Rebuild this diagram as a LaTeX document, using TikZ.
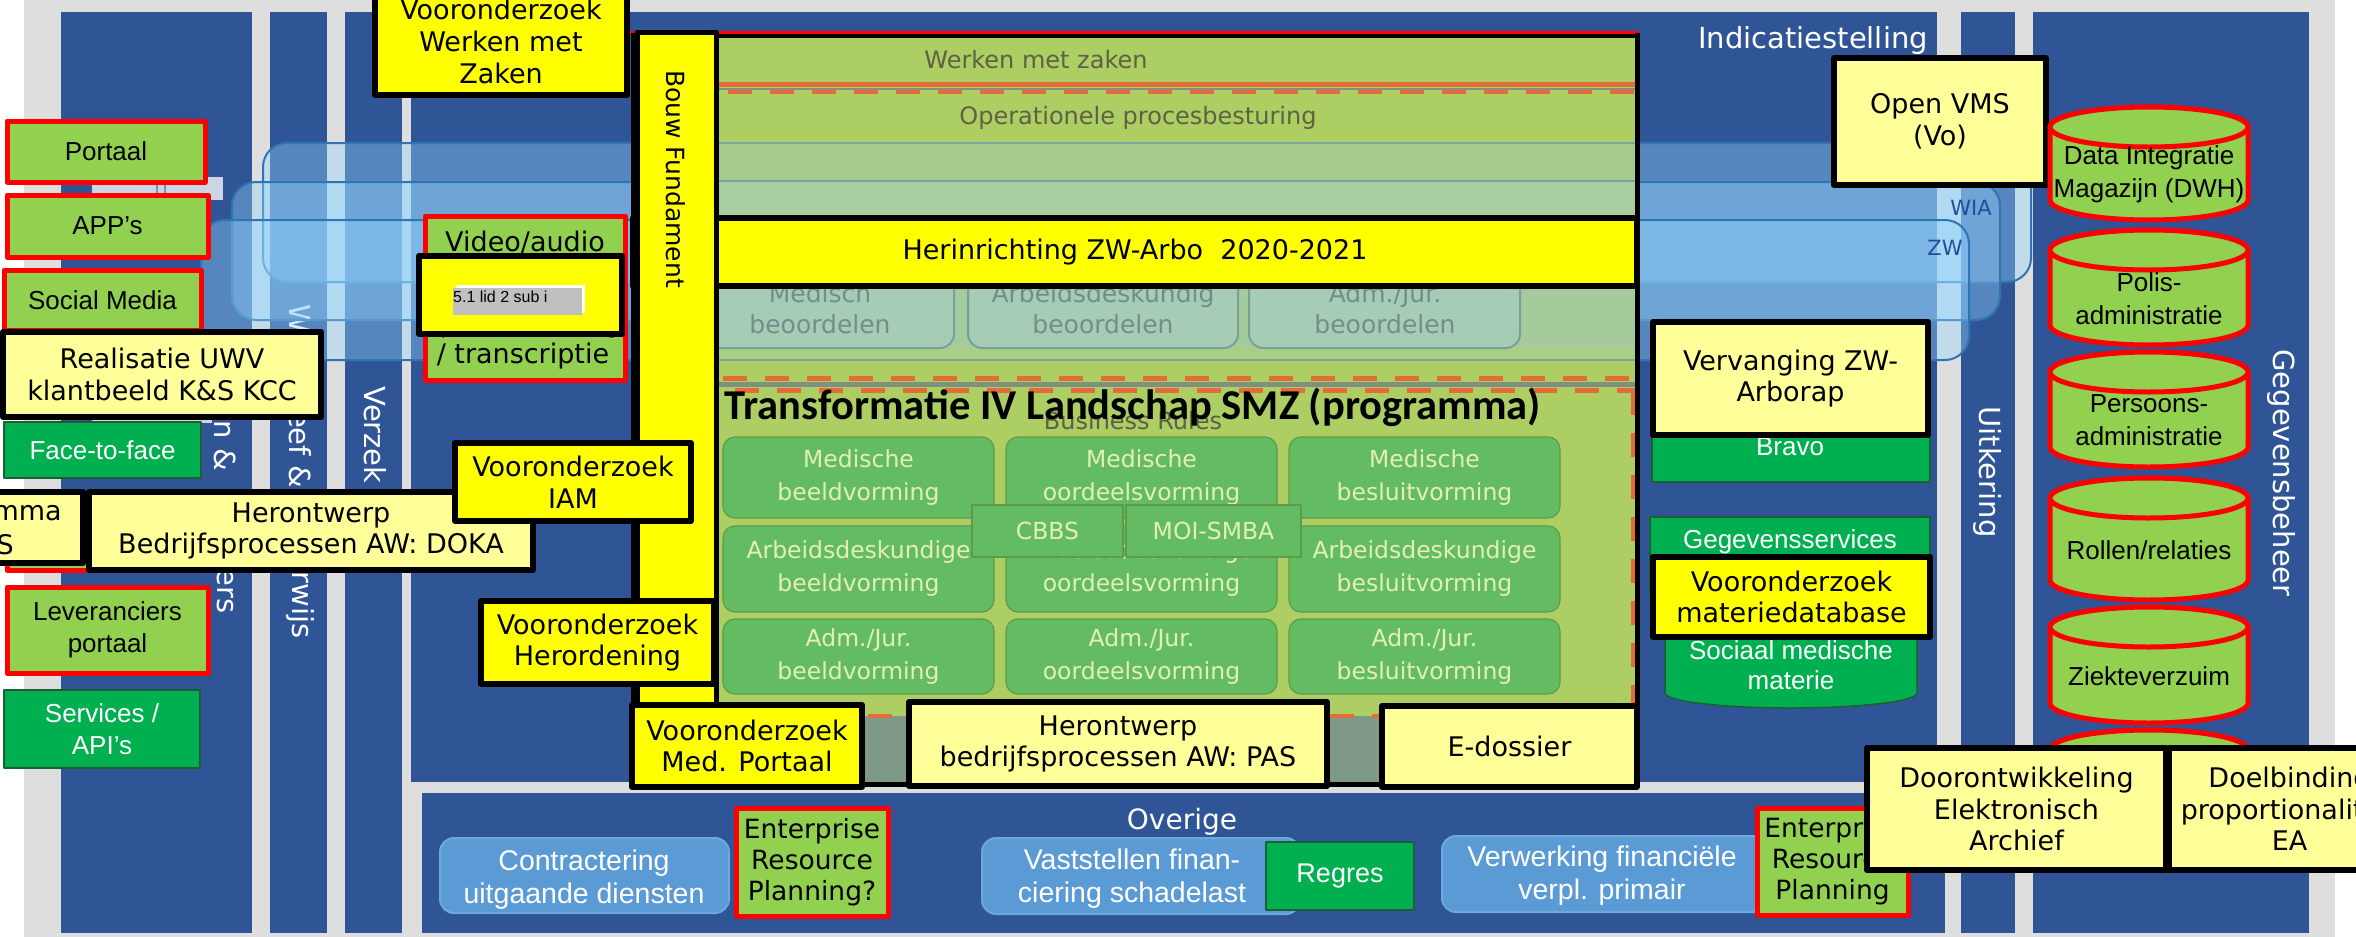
\documentclass[tikz,border=0pt]{standalone}
\usepackage{fontspec}
\setmainfont{DejaVu Sans}
\newfontfamily\arialf{Liberation Sans}
\newfontfamily\calib{Carlito}

\definecolor{achter}{HTML}{DEDEDE}
\definecolor{donkerblauw}{HTML}{2F5597}
\definecolor{lichtgroen}{HTML}{92D050}
\definecolor{groen}{HTML}{00B050}
\definecolor{donkergroen}{HTML}{1E5E34}
\definecolor{geel}{HTML}{FFFF00}
\definecolor{lichtgeel}{HTML}{FFFF99}
\definecolor{rood}{HTML}{FF0000}
\definecolor{olijf}{HTML}{ADCE62}
\definecolor{band1}{HTML}{A6CB8C}
\definecolor{band2}{HTML}{A7CDA1}
\definecolor{band3}{HTML}{A5CB9C}
\definecolor{band4}{HTML}{A9CE84}
\definecolor{bandlijn}{HTML}{7FA4A0}
\definecolor{scheidgrijs}{HTML}{7F8F80}
\definecolor{bodemgrijs}{HTML}{7E9985}
\definecolor{oranje}{HTML}{E46C3A}
\definecolor{regelgroen}{HTML}{63BC62}
\definecolor{regelrand}{HTML}{5E9A4C}
\definecolor{regeltekst}{HTML}{E4EFB8}
\definecolor{grijstekst}{HTML}{5E6145}
\definecolor{beoordeel}{HTML}{A7CCB5}
\definecolor{beoordeelrand}{HTML}{73A29E}
\definecolor{beoordeeltekst}{HTML}{6F9088}
\definecolor{overblauw}{HTML}{96D7FF}
\definecolor{randblauw}{HTML}{2E75B6}
\definecolor{wetblauw}{HTML}{1F4E9A}
\definecolor{procesblauw}{HTML}{5B9BD5}
\definecolor{procesrand}{HTML}{6FA8DC}
\definecolor{stub}{HTML}{CCD5E6}
\definecolor{stublijn}{HTML}{7F8FB0}
\definecolor{grijsvak}{HTML}{C0C0C0}

% vak met hoeken (x1,y1) en (x2,y2)
\newcommand{\blok}[7]{%
  \node[#1, minimum width={(#5)-(#3)}, minimum height={(#6)-(#4)}] (#2) at ({(#3+#5)/2},{(#4+#6)/2}) {#7};}
% database: stijl, naam, midden x, boven, onder, tekst
\newcommand{\dbcil}[6]{%
  \path[#1] (#3-99,#4+20) -- (#3-99,#5-20) arc[start angle=180, end angle=360, x radius=99pt, y radius=20pt]
    -- (#3+99,#4+20) arc[start angle=0, end angle=180, x radius=99pt, y radius=20pt] -- cycle;
  \path[#1] (#3,#4+20) ellipse[x radius=99pt, y radius=20pt];
  \node[dbtekst] (#2) at (#3,{(#4+#5)/2+11}) {#6};}

\begin{document}
\begin{tikzpicture}[
    x=1pt, y=-1pt,
    line join=round,
    kolom/.style={fill=donkerblauw},
    kolomtekst/.style={text=white, rotate=-90, inner sep=0pt, font=\fontsize{29}{33}\selectfont},
    witlabel/.style={text=white, inner sep=0pt, font=\fontsize{29}{33}\selectfont},
    wetlabel/.style={text=wetblauw, inner sep=0pt, font=\fontsize{21}{24}\selectfont},
    laag/.style={fill=overblauw, fill opacity=0.38, draw=randblauw, line width=2pt, rounded corners=24pt},
    geelvak/.style={fill=geel, draw=black, line width=6pt, align=center, inner sep=0pt, font=\fontsize{27}{31.5}\selectfont},
    lgeelvak/.style={geelvak, fill=lichtgeel},
    groenrood/.style={fill=lichtgroen, draw=rood, line width=5pt, align=center, inner sep=0pt, font=\arialf\fontsize{26}{32}\selectfont},
    erpvak/.style={groenrood, font=\fontsize{26.5}{31}\selectfont},
    groenvak/.style={fill=groen, draw=donkergroen, line width=1.5pt, text=white, align=center, inner sep=0pt, font=\arialf\fontsize{26}{32}\selectfont},
    regel/.style={fill=regelgroen, draw=regelrand, line width=1.2pt, rounded corners=12pt, text=regeltekst, align=center, inner sep=0pt, font=\fontsize{23.5}{33}\selectfont},
    beoordeelvak/.style={fill=beoordeel, draw=beoordeelrand, line width=2pt, rounded corners=14pt},
    beoordeeltxt/.style={text=beoordeeltekst, align=center, inner sep=0pt, font=\fontsize{25}{31}\selectfont},
    proces/.style={fill=procesblauw, draw=procesrand, line width=2pt, rounded corners=14pt},
    procestekst/.style={text=white, align=center, inner sep=0pt, font=\arialf\fontsize{28.5}{33}\selectfont},
    bandtekst/.style={text=grijstekst, inner sep=0pt, font=\fontsize{24}{28}\selectfont},
    streep/.style={draw=oranje, line width=4.5pt, dash pattern=on 24pt off 18pt},
    dbvat/.style={fill=lichtgroen, draw=rood, line width=5pt},
    dbtekst/.style={align=center, inner sep=0pt, font=\arialf\fontsize{26}{33}\selectfont}
  ]
  \useasboundingbox (0,0) rectangle (2356,937);

  % achtergrond
  \fill[white] (0,0) rectangle (2356,937);
  \fill[achter] (24,0) rectangle (2335,937);

  % kolommen
  \fill[kolom] (61,12) rectangle (252,933);
  \fill[kolom] (270,12) rectangle (327,933);
  \fill[kolom] (345,12) rectangle (402,933);
  \fill[kolom] (411,12) rectangle (1937,782);
  \fill[kolom] (422,793) rectangle (1945,933);
  \fill[kolom] (1961,12) rectangle (2015,933);
  \fill[kolom] (2033,12) rectangle (2309,933);

  % kolomteksten
  \node[kolomtekst] (kanaal1) at (225,446) {n \&};
  \node[kolomtekst] (kanaal2) at (225,591) {ers};
  \node[kolomtekst] (werk1) at (300,319) {W};
  \node[kolomtekst] (werk2) at (300,449) {eef \&};
  \node[kolomtekst] (werk3) at (300,605) {rwijs};
  \node[kolomtekst] (verzek) at (375,435) {Verzek};
  \node[kolomtekst] (uitkering) at (1987,472) {Uitkering};
  \node[kolomtekst] (gegevens) at (2281,473) {Gegevensbeheer};
  \node[witlabel] (indicatie) at (1813,40) {Indicatiestelling};
  \node[witlabel, font=\fontsize{28}{32}\selectfont] (overige) at (1182,822) {Overige};

  % wetten dwars door de kolommen
  \draw[laag] (263,143) rectangle (2031,282);
  \draw[laag] (232,182) rectangle (2000,320);
  \node[wetlabel] (wia) at (1971,208) {WIA};
  \draw[laag] (201,220) rectangle (1969,360);
  \node[wetlabel] (zw) at (1945,248) {ZW};

  \fill[stub] (92,177) rectangle (223,200);
  \draw[stublijn, line width=1.5pt] (157,177) -- (157,200) (165,177) -- (165,200);
  \fill[stub] (92,416) rectangle (212,423);

  % centraal blok
  \fill[olijf] (633,34) rectangle (1637,716);
  \fill[band1] (633,143) rectangle (1637,181);
  \fill[band2] (633,181) rectangle (1637,218);
  \fill[band3] (633,218) rectangle (1637,348);
  \fill[band4] (633,348) rectangle (1637,360);
  \fill[bodemgrijs] (633,716) rectangle (1637,785);
  \draw[bandlijn, line width=2pt] (633,143) -- (1637,143) (633,181) -- (1637,181) (633,360) -- (1637,360);
  \draw[oranje, line width=5pt] (700,84.5) -- (1637,84.5);
  \draw[scheidgrijs, line width=2pt] (700,88.5) -- (1637,88.5);
  \draw[streep] (728,92) -- (1637,92);
  \draw[streep] (723,378.5) -- (1637,378.5);
  \draw[scheidgrijs, line width=5pt] (700,384.5) -- (1637,384.5);
  \draw[streep] (735,390.5) -- (1637,390.5);
  \draw[streep] (1633,391) -- (1633,716);
  \draw[streep] (700,716) -- (1633,716);
  \draw[rood, line width=3pt] (629,32) -- (1639,32);
  \draw[black, line width=4pt] (700,35.5) -- (1639,35.5);
  \draw[black, line width=5pt] (1637,33) -- (1637,786) (633,33) -- (633,786) (633,784) -- (1637,784);

  \node[bandtekst] (werkenzaken) at (1036,60) {Werken met zaken};
  \node[bandtekst] (procesbest) at (1138,118) {Operationele procesbesturing};

  % beoordelen
  \draw[beoordeelvak] (686,262) rectangle (954,348);
  \draw[beoordeelvak] (968,262) rectangle (1238,348);
  \draw[beoordeelvak] (1249,262) rectangle (1520,348);
  \node[beoordeeltxt] (medbeo) at (820,309) {Medisch\\beoordelen};
  \node[beoordeeltxt] (adbeo) at (1103,309) {Arbeidsdeskundig\\beoordelen};
  \node[beoordeeltxt] (admbeo) at (1385,309) {Adm./Jur.\\beoordelen};

  \blok{geelvak}{herinrichting}{633}{218}{1637}{286}{Herinrichting ZW-Arbo\ \ 2020-2021}

  % business rules
  \node[bandtekst] (rules) at (1133,421) {Business Rules};
  \node[anchor=base, inner sep=0pt, font=\calib\bfseries\fontsize{42.5}{46}\selectfont] (titel) at (1133,419) {Transformatie IV Landschap SMZ (programma)};
  \foreach \rij/\ya/\yb/\wie in {1/437/518/Medische, 2/526/612/Arbeidsdeskundige, 3/619/694/{Adm./Jur.}}
    \foreach \kol/\xa/\xb/\wat in {1/723/994/beeldvorming, 2/1006/1277/oordeelsvorming, 3/1289/1560/besluitvorming}
      \blok{regel}{regel\rij\kol}{\xa}{\ya}{\xb}{\yb}{\wie\\\wat};
  \blok{regel, rounded corners=0pt}{cbbs}{972}{505}{1123}{557}{CBBS}
  \blok{regel, rounded corners=0pt}{moismba}{1126}{505}{1301}{557}{MOI-SMBA}

  % bouw fundament
  \blok{geelvak, line width=5pt}{bouw}{637}{32}{716}{705}{}
  \node[rotate=-90, inner sep=0pt, font=\fontsize{25}{28}\selectfont] (bouwtekst) at (676,179) {Bouw\ Fundament};

  % kanalen links
  \blok{groenrood}{portaal}{7}{121}{205}{182}{Portaal}
  \blok{groenrood}{apps}{7}{195}{208}{257}{APP’s}
  \blok{groenrood}{social}{4}{270}{201}{330}{Social Media}
  \blok{lgeelvak}{realisatie}{3}{332}{321}{417}{Realisatie UWV\\klantbeeld K\&S KCC}
  \blok{groenvak}{face}{4}{422}{201}{478}{Face-to-face}
  \blok{groenrood}{verborgen}{7}{502}{208}{570}{}
  \blok{lgeelvak}{programma}{-60}{492}{83}{563}{}
  \node[anchor=east, inner sep=0pt, font=\fontsize{27}{31}\selectfont] (mma) at (62,513) {mma};
  \node[anchor=east, inner sep=0pt, font=\fontsize{27}{31}\selectfont] (mmas) at (14,545) {S};
  \blok{lgeelvak}{doka}{89}{492}{533}{570}{Herontwerp\\Bedrijfsprocessen AW: DOKA}
  \blok{groenrood}{leveranciers}{7}{587}{208}{673}{Leveranciers\\portaal}
  \blok{groenvak}{services}{4}{690}{200}{768}{Services /\\API’s}

  % video en spraak
  \blok{groenrood}{video}{425}{216}{625}{380}{}
  \node[inner sep=0pt, align=center, font=\fontsize{27}{31}\selectfont] (videotekst) at (525,242) {Video/audio};
  \node[inner sep=0pt, align=center, font=\fontsize{27}{31}\selectfont] (spraak) at (523,341) {\scalebox{0.78}[1]{Spraakherkenning}\\/ transcriptie};
  \blok{geelvak}{lid}{419}{256}{622}{334}{}
  \fill[white] (456,285) rectangle (585,313);
  \fill[grijsvak] (453,288) rectangle (582,315);
  \node[anchor=west, inner sep=0pt, font=\arialf\fontsize{16}{18}\selectfont] (wetsartikel) at (453,297) {5.1 lid 2 sub i};

  % vooronderzoeken
  \blok{geelvak}{werkenmetzaken}{375}{-30}{627}{95}{}
  \node[inner sep=0pt, align=center, font=\fontsize{27}{32}\selectfont] (wmztekst) at (501,41) {Vooronderzoek\\Werken met\\Zaken};
  \blok{geelvak}{iam}{455}{443}{691}{521}{Vooronderzoek\\IAM}
  \blok{geelvak}{herordening}{481}{601}{714}{684}{Vooronderzoek\\Herordening}
  \blok{geelvak}{medportaal}{632}{705}{862}{787}{Vooronderzoek\\Med. Portaal}
  \blok{lgeelvak}{pas}{909}{702}{1327}{786}{Herontwerp\\bedrijfsprocessen AW: PAS}
  \blok{lgeelvak}{edossier}{1382}{706}{1637}{787}{E-dossier}

  % rechts in indicatiestelling
  \blok{lgeelvak}{openvms}{1834}{58}{2046}{185}{Open VMS\\(Vo)}
  \blok{groenvak}{bravo}{1652}{410}{1930}{482}{}
  \node[inner sep=0pt, text=white, font=\arialf\fontsize{26}{32}\selectfont] (bravotekst) at (1790,447) {Bravo};
  \blok{lgeelvak}{vervanging}{1653}{322}{1928}{435}{Vervanging ZW-\\Arborap}
  \path[fill=groen, draw=donkergroen, line width=1.5pt] (1665,600) -- (1665,693) arc[start angle=180, end angle=360, x radius=126pt, y radius=15pt] -- (1917,600) -- cycle;
  \node[inner sep=0pt, align=center, text=white, font=\arialf\fontsize{26}{30}\selectfont] (sociaal) at (1791,665) {Sociaal medische\\materie};
  \blok{groenvak}{gegevensservices}{1650}{517}{1930}{597}{}
  \node[inner sep=0pt, text=white, font=\arialf\fontsize{26}{32}\selectfont] (gstekst) at (1790,542) {Gegevensservices};
  \blok{geelvak}{materie}{1653}{557}{1930}{637}{Vooronderzoek\\materiedatabase}

  % gegevensbeheer
  \dbcil{dbvat}{dwh}{2149}{107}{220}{Data Integratie\\Magazijn (DWH)}
  \dbcil{dbvat}{polis}{2149}{230}{345}{Polis-\\administratie}
  \dbcil{dbvat}{persoons}{2149}{352}{467}{Persoons-\\administratie}
  \dbcil{dbvat}{rollen}{2149}{478}{600}{Rollen/relaties}
  \dbcil{dbvat}{verzuim}{2149}{607}{723}{Ziekteverzuim}
  \dbcil{dbvat}{zesde}{2149}{730}{850}{}

  % overige
  \blok{proces}{contract}{440}{838}{729}{913}{}
  \node[procestekst] (contracttekst) at (584,880) {Contractering\\uitgaande diensten};
  \blok{erpvak}{erp1}{736}{808}{888}{916}{Enterprise\\Resource\\Planning?}
  \blok{proces}{vaststellen}{982}{838}{1300}{914}{}
  \node[procestekst] (vaststellentekst) at (1132,879) {Vaststellen finan-\\ciering schadelast};
  \blok{groenvak, font=\arialf\fontsize{27}{32}\selectfont}{regres}{1266}{842}{1414}{910}{Regres}
  \blok{proces}{verwerking}{1442}{836}{1770}{912}{}
  \node[procestekst] (verwerkingtekst) at (1602,876) {Verwerking financiële\\verpl. primair};
  \blok{erpvak}{erp2}{1757}{808}{1908}{915}{Enterprise\\Resource\\Planning}

  % archief en doelbinding
  \blok{lgeelvak}{archief}{1867}{748}{2166}{870}{Doorontwikkeling\\Elektronisch\\Archief}
  \blok{lgeelvak}{doelbinding}{2169}{748}{2410}{870}{Doelbinding\\proportionaliteit\\EA}
\end{tikzpicture}
\end{document}
